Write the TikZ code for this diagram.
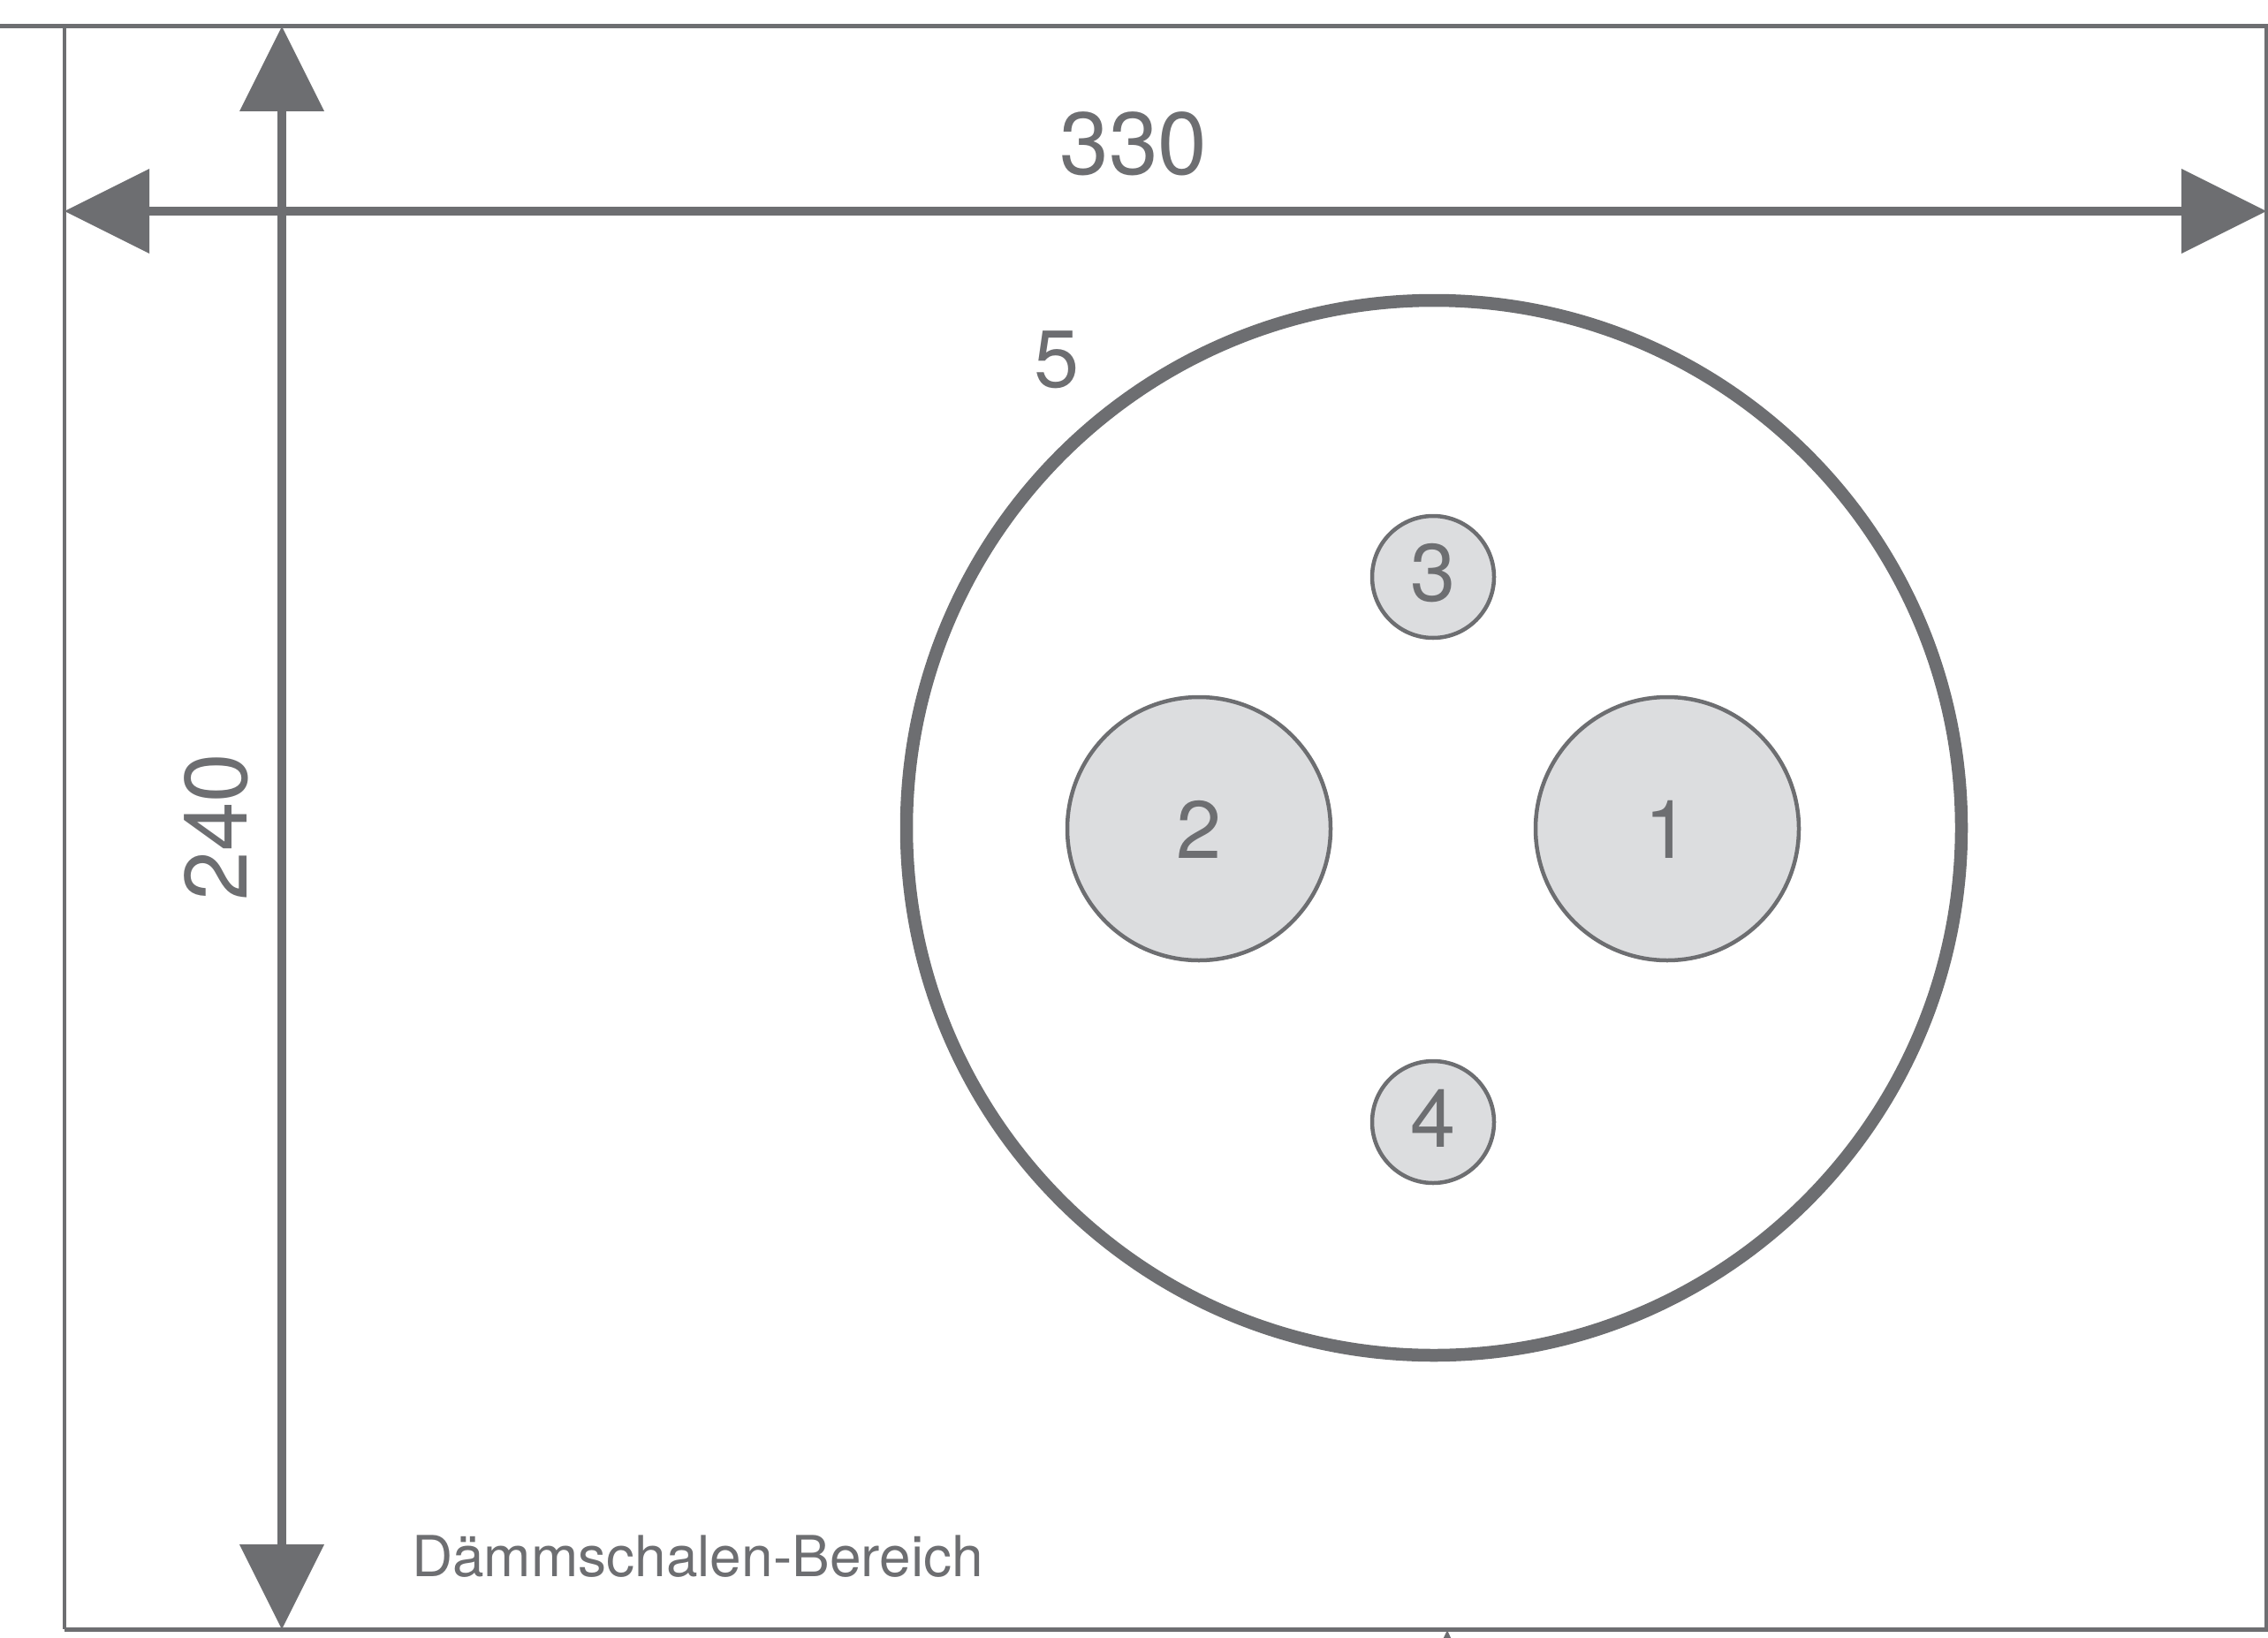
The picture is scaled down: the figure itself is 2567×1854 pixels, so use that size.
\documentclass[tikz,border=0pt]{standalone}
\usepackage{fontspec}
\setmainfont{TeX Gyre Heros}
\usetikzlibrary{arrows.meta}
\definecolor{lg}{HTML}{6D6E71}
\definecolor{fl}{HTML}{DCDDDF}
\tikzset{
  frameline/.style={draw=lg, line width=5pt},
  dimline/.style={draw=lg, line width=10pt,
    {Triangle[length=96pt,width=96pt,line width=0pt]}-{Triangle[length=96pt,width=96pt,line width=0pt]}},
  bigring/.style={circle, draw=lg, line width=14.5pt, inner sep=0pt},
  pipe/.style={circle, draw=lg, fill=fl, line width=4.5pt, inner sep=0pt},
  dimtext/.style={text=lg, inner sep=0pt, font=\fontsize{100pt}{110pt}\selectfont},
  numtext/.style={text=lg, inner sep=0pt, font=\fontsize{92pt}{100pt}\selectfont},
  labtext/.style={text=lg, inner sep=0pt, font=\fontsize{64pt}{70pt}\selectfont},
}
\begin{document}
\begin{tikzpicture}[x=1pt,y=-1pt]
\useasboundingbox (0,0) rectangle (2567,1854);
% frame
\coordinate (tl0) at (0,30);
\coordinate (tr) at (2567,30);
\coordinate (tl) at (73,30);
\coordinate (bl) at (73,1844);
\coordinate (br) at (2565,1844);
\coordinate (trr) at (2565,30);
\draw[frameline] (tl0) -- (tr);
\draw[frameline, line width=4.5pt] (tl) -- (bl);
\draw[frameline] (bl) -- (2567,1844);
\draw[frameline, line width=4pt] (trr) -- (br);
% dimension arrows
\coordinate (hl) at (73,239);
\coordinate (hr) at (2565,239);
\coordinate (vt) at (319,30);
\coordinate (vb) at (319,1844);
\draw[dimline] (hl) -- (hr);
\draw[dimline] (vt) -- (vb);
\node[dimtext, anchor=base] (d330) at (1283,198) {330};
\node[dimtext, rotate=90] (d240) at (245,936) {240};
% cut-off marker at bottom
\fill[lg] (1632,1858) -- (1638,1845) -- (1644,1858) -- cycle;
% circles
\node[bigring, minimum size=1194pt] (outer) at (1623,937) {};
\node[pipe, minimum size=298pt] (p2) at (1357,938) {};
\node[pipe, minimum size=298pt] (p1) at (1887,938) {};
\node[pipe, minimum size=138pt] (p3) at (1622,653) {};
\node[pipe, minimum size=138pt] (p4) at (1622,1270) {};
\node[numtext] (n1) at (1887,939) {1};
\node[numtext] (n2) at (1357,939) {2};
\node[numtext] (n3) at (1622,649) {3};
\node[numtext] (n4) at (1622,1266) {4};
\node[numtext] (n5) at (1196,407) {5};
\node[labtext, anchor=base west] (lab) at (466,1784) {Dämmschalen-Bereich};
\end{tikzpicture}
\end{document}
